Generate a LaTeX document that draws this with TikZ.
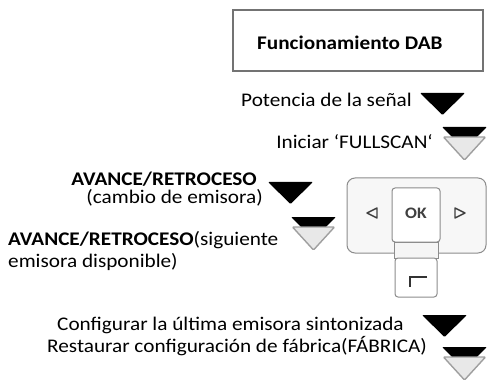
\documentclass[tikz,border=0pt]{standalone}
\usepackage{fontspec}
\setmainfont{Carlito}[FakeStretch=1.1]
\usetikzlibrary{positioning}

\begin{document}
\begin{tikzpicture}[x=1pt, y=-1pt,
  txt/.style={font=\fontsize{19.3}{22}\selectfont, inner sep=0pt},
  keyline/.style={draw=black!45, line width=1pt},
  darktri/.pic={\fill[black, rounded corners=1pt] (0,0) -- (45,0) -- (22.5,22) -- cycle;},
  dbltri/.pic={
    \fill[black, rounded corners=1pt] (0,0) -- (45,0) -- (22.5,22) -- cycle;
    \filldraw[fill=gray!18, draw=gray!75, line width=1.4pt, rounded corners=1pt] (1.5,10) -- (43.5,10) -- (22.5,33) -- cycle;}
]
  \useasboundingbox (0,0) rectangle (487,382);

  % title
  \node[draw=black!55, line width=1.2pt, minimum width=250pt, minimum height=61pt, inner sep=0pt] (titlebox) at (358,40.5) {};
  \node[txt, anchor=base west, font=\fontsize{19.3}{22}\selectfont\bfseries] (title) at (257,50) {Funcionamiento DAB};

  % labels
  \node[txt, anchor=base east] (potencia) at (412,107) {Potencia de la señal};
  \node[txt, anchor=base east] (fullscan) at (433,149) {Iniciar ‘FULLSCAN‘};
  \node[txt, anchor=base east, text depth=1pt] (avance) at (257,185.5) {\textbf{AVANCE/RETROCESO}};
  \node[txt, anchor=base east, text height=12pt] (cambio) at (263,203.5) {(cambio de emisora)};
  \node[txt, anchor=base west] (siguiente) at (8,245) {\textbf{AVANCE/RETROCESO}(siguiente};
  \node[txt, anchor=base west] (disponible) at (8,267) {emisora disponible)};
  \node[txt, anchor=base west] (ultima) at (57,330) {Configurar la última emisora sintonizada};
  \node[txt, anchor=base west] (fabrica) at (47,352) {Restaurar configuración de fábrica(FÁBRICA)};

  % triangles
  \pic at (420,93) {darktri};
  \pic at (442,127) {dbltri};
  \pic at (268,182) {darktri};
  \pic at (291,217) {dbltri};
  \pic at (422,315) {darktri};
  \pic at (442,347) {dbltri};

  % key pad
  \draw[keyline, fill=gray!6, rounded corners=8pt] (347,178) rectangle (486,253);
  \draw[keyline, fill=white, rounded corners=3pt] (392,188) rectangle (440,242);
  \draw[keyline, fill=gray!8] (394,242) rectangle (438,258);
  \draw[keyline, fill=white, rounded corners=3pt] (395,258) rectangle (437,297);
  \node[font=\fontsize{16}{16}\selectfont\bfseries, text=black!75, inner sep=0pt] (ok) at (416,213) {OK};
  \draw[black!75, line width=1.4pt, line join=round] (367,213) -- (377,208) -- (377,218) -- cycle;
  \draw[black!75, line width=1.4pt, line join=round] (465,213) -- (455,208) -- (455,218) -- cycle;
  \draw[black!80, line width=1.8pt] (427,277) -- (410,277) -- (410,287);
\end{tikzpicture}
\end{document}
